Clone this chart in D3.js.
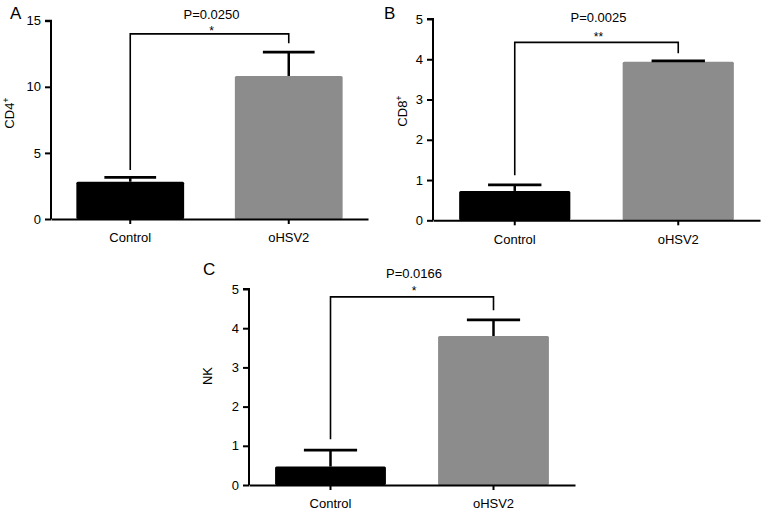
<!DOCTYPE html>
<html>
<head>
<meta charset="utf-8">
<script src="https://cdn.jsdelivr.net/npm/d3@7"></script>
<style>
  body { margin: 0; background: #fff; }
  text { font-family: "Liberation Sans", Arial, sans-serif; fill: #000; }
</style>
</head>
<body>
<svg width="765" height="511"></svg>
<script>
// data
const groups = ["Control", "oHSV2"];
const colors = ["#000000", "#8c8c8c"];

const cd4Mean = [2.82, 10.82];
const cd4Sem = [0.33, 1.81];
const cd8Mean = [0.73, 3.94];
const cd8Sem = [0.15, 0.02];
const nkMean = [0.47, 3.80];
const nkSem = [0.42, 0.41];

const pLabels = ["P=0.0250", "P=0.0025", "P=0.0166"];
const starLabels = ["*", "**", "*"];
const bracketLevels = [14.0, 4.42, 4.80];
const bracketLegEnds = [[3.7, 13.3], [1.12, 4.15], [1.17, 4.46]];

const ticksA = [0, 5, 10, 15];
const ticksBC = [0, 1, 2, 3, 4, 5];
const yMax = [15, 5, 5];
const yNames = ["CD4", "CD8", "NK"];
const ySups = ["+", "+", ""];
const letters = ["A", "B", "C"];

// panel layout (pixels)
const panels = [
  { x0: 51, x1: 368, y0: 219, y1: 20.7, lx: 10, ly: 19, tx: 13.5, ty: 113, pDy: -15, sDy: 1.5,
    mean: cd4Mean, sem: cd4Sem, ticks: ticksA },
  { x0: 433, x1: 760, y0: 220.3, y1: 19, lx: 384, ly: 18.5, tx: 407, ty: 111, pDy: -20.5, sDy: -1.5,
    mean: cd8Mean, sem: cd8Sem, ticks: ticksBC },
  { x0: 249, x1: 575, y0: 485, y1: 289, lx: 203, ly: 275, tx: 212, ty: 376, pDy: -19, sDy: -1.5,
    mean: nkMean, sem: nkSem, ticks: ticksBC }
];

const svg = d3.select("svg");

panels.forEach(function(p, k) {
  const g = svg.append("g");

  const x = d3.scaleBand()
      .domain(groups)
      .range([p.x0, p.x1])
      .paddingInner(0.32)
      .paddingOuter(0.16);

  const y = d3.scaleLinear()
      .domain([0, yMax[k]])
      .range([p.y0, p.y1]);

  const rows = groups.map((d, i) => ({ name: d, mean: p.mean[i], sem: p.sem[i], color: colors[i] }));

  // bars
  g.selectAll("rect.bar")
    .data(rows)
    .enter()
    .append("rect")
    .attr("class", "bar")
    .attr("x", d => x(d.name))
    .attr("y", d => y(d.mean))
    .attr("width", x.bandwidth())
    .attr("height", d => y(0) - y(d.mean))
    .attr("rx", 1.5)
    .attr("fill", d => d.color);

  // error bars (upper only)
  const capW = x.bandwidth() * 0.48;
  g.selectAll("line.err")
    .data(rows)
    .enter()
    .append("line")
    .attr("x1", d => x(d.name) + x.bandwidth() / 2)
    .attr("x2", d => x(d.name) + x.bandwidth() / 2)
    .attr("y1", d => y(d.mean))
    .attr("y2", d => y(d.mean + d.sem))
    .attr("stroke", "#000")
    .attr("stroke-width", 2.5);

  g.selectAll("line.cap")
    .data(rows)
    .enter()
    .append("line")
    .attr("x1", d => x(d.name) + x.bandwidth() / 2 - capW / 2)
    .attr("x2", d => x(d.name) + x.bandwidth() / 2 + capW / 2)
    .attr("y1", d => y(d.mean + d.sem))
    .attr("y2", d => y(d.mean + d.sem))
    .attr("stroke", "#000")
    .attr("stroke-width", 2.8);

  // axes
  const yAxis = d3.axisLeft(y).tickValues(p.ticks).tickFormat(d3.format("d")).tickSize(6).tickPadding(4);
  const xAxis = d3.axisBottom(x).tickSize(5).tickPadding(9).tickSizeOuter(0);

  const ya = g.append("g")
    .attr("transform", "translate(" + p.x0 + ",0)")
    .call(yAxis);
  ya.select(".domain").attr("d", "M-6," + p.y1 + "H0V" + p.y0);

  const xa = g.append("g")
    .attr("transform", "translate(0," + p.y0 + ")")
    .call(xAxis);

  [ya, xa].forEach(a => {
    a.selectAll("path, line").attr("stroke", "#000").attr("stroke-width", 2);
    a.selectAll("text").attr("font-size", 13).attr("font-family", "Liberation Sans, Arial, sans-serif");
  });

  // y label
  const lab = g.append("text")
    .attr("transform", "translate(" + p.tx + "," + p.ty + ") rotate(-90)")
    .attr("text-anchor", "middle")
    .attr("font-size", 13)
    .text(yNames[k]);
  if (ySups[k]) {
    lab.append("tspan")
      .attr("font-size", 9)
      .attr("dy", -5)
      .text(ySups[k]);
  }

  // panel letter
  g.append("text")
    .attr("x", p.lx)
    .attr("y", p.ly)
    .attr("font-size", 17)
    .text(letters[k]);

  // significance bracket
  const cx0 = x(groups[0]) + x.bandwidth() / 2;
  const cx1 = x(groups[1]) + x.bandwidth() / 2;
  const by = y(bracketLevels[k]);
  g.append("path")
    .attr("d", "M" + cx0 + "," + y(bracketLegEnds[k][0]) + "V" + by + "H" + cx1 + "V" + y(bracketLegEnds[k][1]))
    .attr("fill", "none")
    .attr("stroke", "#000")
    .attr("stroke-width", 1.6);

  g.append("text")
    .attr("x", (cx0 + cx1) / 2 + 2)
    .attr("y", by + p.pDy)
    .attr("text-anchor", "middle")
    .attr("font-size", 13)
    .text(pLabels[k]);

  g.append("text")
    .attr("x", (cx0 + cx1) / 2 + 2)
    .attr("y", by + p.sDy)
    .attr("text-anchor", "middle")
    .attr("font-size", 12)
    .text(starLabels[k]);
});
</script>
</body>
</html>
